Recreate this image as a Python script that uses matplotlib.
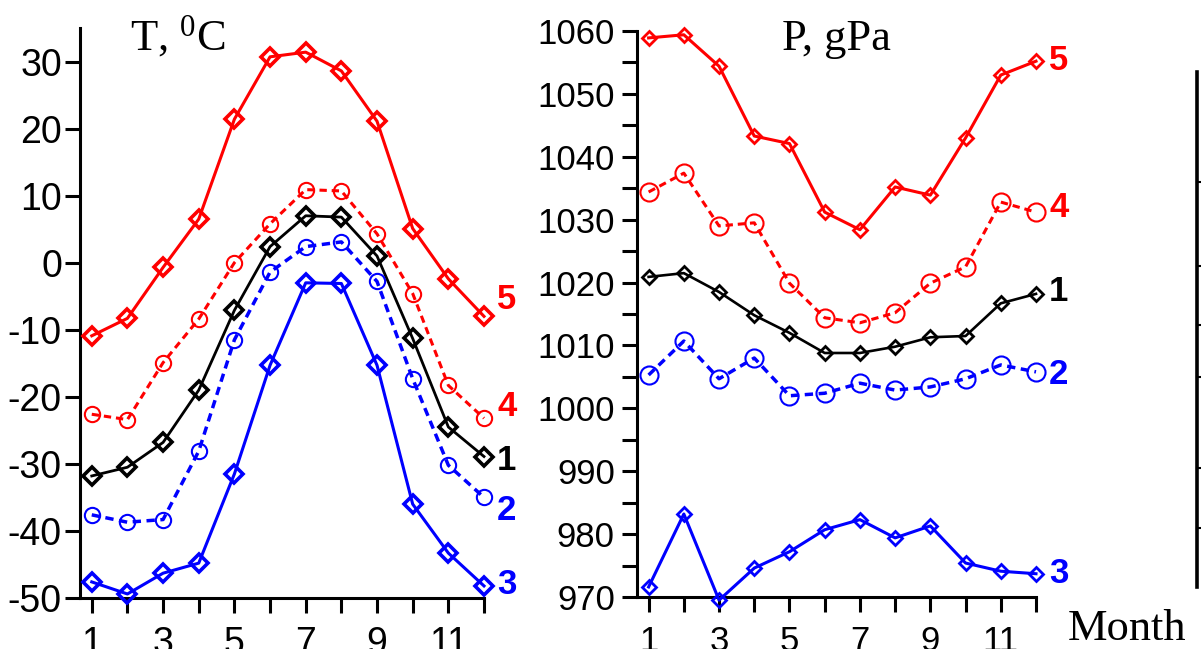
import numpy as np
import matplotlib.pyplot as plt
from matplotlib.lines import Line2D

plt.rcParams['font.family'] = 'Liberation Sans'
plt.rcParams['mathtext.fontset'] = 'custom'
plt.rcParams['mathtext.rm'] = 'Liberation Serif'
plt.rcParams['axes.unicode_minus'] = False

months = np.arange(1, 13)
month_labels = ['1', '', '3', '', '5', '', '7', '', '9', '', '11', '']

# temperature, deg C
t1 = [-31.8, -30.5, -26.8, -19.0, -7.1, 2.4, 7.0, 6.8, 1.0, -11.3, -24.5, -28.9]
t2 = [-37.6, -38.7, -38.3, -28.1, -11.5, -1.4, 2.4, 3.1, -2.8, -17.3, -30.2, -35.0]
t3 = [-47.6, -49.4, -46.3, -44.8, -31.5, -15.3, -3.0, -3.1, -15.3, -36.0, -43.3, -48.2]
t4 = [-22.6, -23.4, -14.9, -8.4, 0.0, 5.8, 10.9, 10.7, 4.3, -4.6, -18.3, -23.2]
t5 = [-10.9, -8.3, -0.7, 6.5, 21.4, 30.7, 31.4, 28.6, 21.1, 5.1, -2.4, -8.0]

# pressure, gPa
p1 = [1020.9, 1021.5, 1018.5, 1014.8, 1012.0, 1008.8, 1008.8, 1009.8, 1011.3, 1011.5, 1016.7, 1018.2]
p2 = [1005.3, 1010.7, 1004.7, 1008.0, 1002.0, 1002.4, 1004.0, 1002.9, 1003.4, 1004.7, 1006.9, 1005.8]
p3 = [971.6, 983.2, 969.5, 974.6, 977.2, 980.7, 982.3, 979.4, 981.3, 975.4, 974.1, 973.7]
p4 = [1034.4, 1037.4, 1029.0, 1029.5, 1019.9, 1014.4, 1013.6, 1015.2, 1019.9, 1022.5, 1032.8, 1031.2]
p5 = [1058.9, 1059.4, 1054.4, 1043.3, 1042.1, 1031.2, 1028.4, 1035.2, 1033.9, 1043.0, 1053.0, 1055.2]

t_ticks = [-50, -40, -30, -20, -10, 0, 10, 20, 30]
p_ticks = np.arange(970, 1061, 5)
p_labels = [str(v) if v % 10 == 0 else '' for v in p_ticks]

RED = '#ff0000'
BLUE = '#0000ff'
BLACK = '#000000'


def draw_series(ax, vals, color, dashed, marker, ms, mew, lw, label, dy):
    ls = (0, (2.4, 1.6)) if dashed else '-'
    ax.plot(months, vals, color=color, ls=ls, lw=lw, marker=marker, ms=ms,
            mfc='none', mec=color, mew=mew, clip_on=False, zorder=3)
    ax.annotate(label, (12, vals[-1]), xytext=(13, dy), textcoords='offset pixels',
                ha='left', va='center', color=color, fontsize=25,
                fontweight='bold', annotation_clip=False)


def style_axes(ax, ylim, yticks, ylabels, size, ypad):
    ax.set_xlim(0.67, 12)
    ax.set_ylim(*ylim)
    ax.set_xticks(months)
    ax.set_xticklabels(month_labels)
    ax.set_yticks(yticks)
    ax.set_yticklabels(ylabels)
    for s in ['top', 'right']:
        ax.spines[s].set_visible(False)
    for s in ['left', 'bottom']:
        ax.spines[s].set_linewidth(2.2)
    ax.tick_params(direction='out', length=11, width=2.2, labelsize=size)
    ax.tick_params(axis='x', pad=9)
    ax.tick_params(axis='y', pad=ypad)


fig = plt.figure(figsize=(12.01, 6.49), dpi=100)

ax1 = fig.add_axes([80 / 1201, 1 - 598 / 649, 404 / 1201, 570 / 649])
style_axes(ax1, (-50, 35), t_ticks, [str(v) for v in t_ticks], 27, 2)
draw_series(ax1, t5, RED, False, 'D', 9, 2.6, 2.2, '5', 17)
draw_series(ax1, t4, RED, True, 'o', 11, 1.5, 2.2, '4', 12)
draw_series(ax1, t1, BLACK, False, 'D', 9, 2.6, 2.0, '1', -4)
draw_series(ax1, t2, BLUE, True, 'o', 11, 1.5, 2.5, '2', -13)
draw_series(ax1, t3, BLUE, False, 'D', 9, 2.6, 2.2, '3', 1)

ax2 = fig.add_axes([637 / 1201, 1 - 597 / 649, 399 / 1201, 566 / 649])
style_axes(ax2, (970, 1060), p_ticks, p_labels, 25, 5)
draw_series(ax2, p5, RED, False, 'D', 7.5, 2.0, 2.2, '5', 1)
draw_series(ax2, p4, RED, True, 'o', 13, 1.5, 2.2, '4', 5)
draw_series(ax2, p1, BLACK, False, 'D', 7.5, 2.0, 1.9, '1', 2)
draw_series(ax2, p2, BLUE, True, 'o', 13, 1.5, 2.5, '2', -3)
draw_series(ax2, p3, BLUE, False, 'D', 7.5, 2.0, 2.2, '3', 0)

fig.text(130 / 1201, 1 - 50 / 649, r'T, $\mathregular{^0}$C', fontsize=32,
         family='Liberation Serif', va='baseline', ha='left')
fig.text(782 / 1201, 1 - 50 / 649, 'P, gPa', fontsize=32,
         family='Liberation Serif', va='baseline', ha='left')
fig.text(1068 / 1201, 1 - 640 / 649, 'Month', fontsize=32,
         family='Liberation Serif', va='baseline', ha='left')

# edge of the next panel, cut off by the frame
edge_x = 1197 / 1201
edge_ticks = [182, 266, 325, 377, 468, 528]
fig.add_artist(Line2D([edge_x, edge_x], [1 - 72 / 649, 1 - 587 / 649],
                      color='black', lw=2.6))
for yt in edge_ticks:
    fig.add_artist(Line2D([edge_x, edge_x + 4 / 1201], [1 - yt / 649] * 2,
                          color='black', lw=1.5))

fig.savefig('out.png', dpi=100)
